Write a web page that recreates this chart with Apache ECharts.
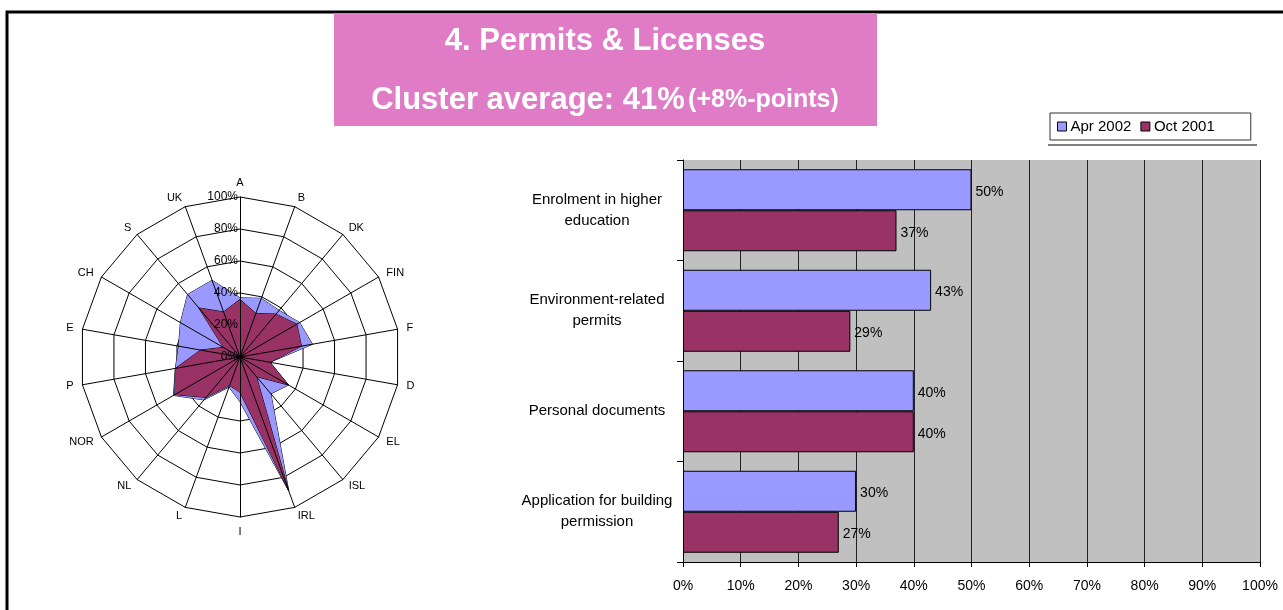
<!DOCTYPE html>
<html>
<head>
<meta charset="utf-8">
<script src="https://cdn.jsdelivr.net/npm/echarts@6/dist/echarts.min.js"></script>
<style>
html, body { margin: 0; padding: 0; background: #fff; }
#main { width: 1283px; height: 610px; }
</style>
</head>
<body>
<div id="main"></div>
<script>
// radar: countries clockwise from the top
var countries = ['A', 'B', 'DK', 'FIN', 'F', 'D', 'EL', 'ISL', 'IRL', 'I', 'L', 'NL', 'NOR', 'P', 'E', 'CH', 'S', 'UK'];
var radarApr = [37, 39, 38, 43, 46, 19, 35, 30, 89, 28, 20, 35, 48, 41, 39, 43, 51, 51];
var radarOct = [36, 29, 35, 41, 39, 19, 35, 16, 89, 22, 19, 33, 47, 41, 25, 12, 40, 30];

// bars
var services = ['Enrolment in higher\neducation', 'Environment-related\npermits', 'Personal documents', 'Application for building\npermission'];
var barApr = [50, 43, 40, 30];
var barOct = [37, 29, 40, 27];

var seriesNames = ['Apr 2002', 'Oct 2001'];
var BLUE = '#9999FF', PURPLE = '#993366';
var FONT = 'Liberation Sans, Arial, sans-serif';

// echarts lays radar indicators counter-clockwise, so flip the order
var order = [0];
for (var i = countries.length - 1; i > 0; i--) order.push(i);
function reorder(arr) {
  return order.map(function (k) { return arr[k]; });
}

function indicators(withLabel) {
  return reorder(countries).map(function (c, idx) {
    var ind = { name: c, min: 0, max: 100 };
    if (withLabel && idx === 0) {
      ind.axisLabel = { show: true, formatter: '{value}%', color: '#000', fontSize: 12, fontFamily: FONT, margin: 2 };
    }
    return ind;
  });
}

var chart = echarts.init(document.getElementById('main'));

var option = {
  animation: false,
  textStyle: { fontFamily: FONT },
  legend: {
    data: seriesNames,
    left: 1050,
    top: 113,
    orient: 'horizontal',
    itemWidth: 9,
    itemHeight: 9,
    itemGap: 9,
    icon: 'rect',
    padding: [6, 36, 6, 7],
    borderColor: '#333',
    borderWidth: 1,
    itemStyle: { borderColor: '#000', borderWidth: 1 },
    textStyle: { color: '#000', fontSize: 15, fontFamily: FONT, padding: [0, 0, 0, -1] }
  },
  radar: [{
    center: [240, 357],
    radius: 160,
    shape: 'polygon',
    splitNumber: 5,
    indicator: indicators(false),
    axisName: { color: '#000', fontSize: 11, fontFamily: FONT },
    nameGap: 9,
    splitLine: { lineStyle: { color: '#000', width: 1 } },
    splitArea: { show: false },
    axisLine: { show: false },
    axisTick: { show: false },
    axisLabel: { show: false }
  }, {
    center: [240, 357],
    radius: 160,
    shape: 'polygon',
    splitNumber: 5,
    z: 3,
    indicator: indicators(true),
    axisName: { show: false },
    splitLine: { show: false },
    splitArea: { show: false },
    axisLine: { lineStyle: { color: '#000', width: 1 } },
    axisTick: { show: false },
    axisLabel: { show: false }
  }],
  grid: {
    left: 683,
    right: 23,
    top: 160,
    bottom: 48,
    show: true,
    backgroundColor: '#C0C0C0',
    borderWidth: 0
  },
  xAxis: {
    type: 'value',
    min: 0,
    max: 100,
    interval: 10,
    axisLine: { show: true, lineStyle: { color: '#000' } },
    axisTick: { show: true, length: 5, lineStyle: { color: '#000' } },
    axisLabel: { formatter: '{value}%', color: '#000', fontSize: 14, fontFamily: FONT, margin: 17 },
    splitLine: { show: true, lineStyle: { color: '#222', width: 1 } }
  },
  yAxis: {
    type: 'category',
    inverse: true,
    data: services,
    axisLine: { show: true, lineStyle: { color: '#000' } },
    axisTick: { show: true, length: 6, lineStyle: { color: '#000' } },
    axisLabel: { color: '#000', fontSize: 15, fontFamily: FONT, align: 'center', margin: 86, lineHeight: 21 }
  },
  series: [{
    type: 'radar',
    radarIndex: 0,
    symbol: 'none',
    data: [{
      name: seriesNames[0],
      value: reorder(radarApr),
      itemStyle: { color: BLUE },
      lineStyle: { color: '#000', width: 1 },
      areaStyle: { color: BLUE, opacity: 1 }
    }, {
      name: seriesNames[1],
      value: reorder(radarOct),
      itemStyle: { color: PURPLE },
      lineStyle: { color: '#000', width: 1 },
      areaStyle: { color: PURPLE, opacity: 1 }
    }]
  }, {
    name: seriesNames[0],
    type: 'bar',
    data: barApr,
    barWidth: 41,
    barGap: '0%',
    itemStyle: { color: BLUE, borderColor: '#000', borderWidth: 1 },
    label: { show: true, position: 'right', formatter: '{c}%', color: '#000', fontSize: 14, fontFamily: FONT, distance: 4, offset: [0, 2] }
  }, {
    name: seriesNames[1],
    type: 'bar',
    data: barOct,
    barWidth: 41,
    barGap: '0%',
    itemStyle: { color: PURPLE, borderColor: '#000', borderWidth: 1 },
    label: { show: true, position: 'right', formatter: '{c}%', color: '#000', fontSize: 14, fontFamily: FONT, distance: 4, offset: [0, 2] }
  }],
  graphic: [{
    type: 'polyline',
    shape: { points: [[7, 610], [7, 12], [1283, 12]] },
    style: { stroke: '#000', lineWidth: 3, fill: null }
  }, {
    type: 'rect',
    shape: { x: 334, y: 13, width: 543, height: 113 },
    style: { fill: '#E07CC6' }
  }, {
    type: 'text',
    x: 605,
    y: 41,
    style: {
      text: '4. Permits & Licenses',
      textAlign: 'center',
      textVerticalAlign: 'middle',
      fill: '#fff',
      font: 'bold 31px ' + FONT
    }
  }, {
    type: 'text',
    x: 605,
    y: 100,
    style: {
      text: '{a|Cluster average: 41%} {b|(+8%-points)}',
      textAlign: 'center',
      textVerticalAlign: 'middle',
      rich: {
        a: { fill: '#fff', fontSize: 31, fontWeight: 'bold', fontFamily: FONT },
        b: { fill: '#fff', fontSize: 25, fontWeight: 'bold', fontFamily: FONT }
      }
    }
  }, {
    type: 'line',
    shape: { x1: 1048, y1: 145, x2: 1257, y2: 145 },
    style: { stroke: '#000', lineWidth: 1 }
  }]
};

chart.setOption(option);
window.onresize = function () {
  chart.resize();
};
</script>
</body>
</html>
